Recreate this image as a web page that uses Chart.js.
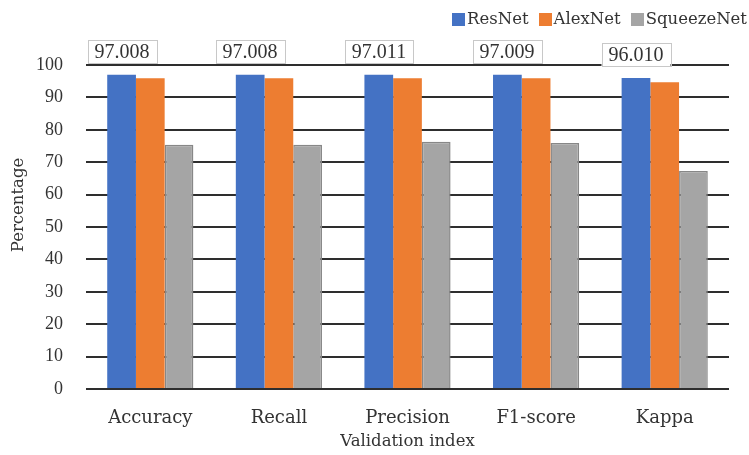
<!DOCTYPE html>
<html>
<head>
<meta charset="utf-8">
<style>
  html, body { margin: 0; padding: 0; background: #ffffff; }
  #wrap { width: 749px; height: 455px; position: relative; }
</style>
<script src="https://cdn.jsdelivr.net/npm/chart.js@4.4.1/dist/chart.umd.min.js"></script>
</head>
<body>
<div id="wrap"><canvas id="chart" width="749" height="455"></canvas></div>
<script>
// Validation metrics per network
const categories = ['Accuracy', 'Recall', 'Precision', 'F1-score', 'Kappa'];
const seriesNames = ['ResNet', 'AlexNet', 'SqueezeNet'];
const resnetValues = [97.008, 97.008, 97.011, 97.009, 96.010];
const alexnetValues = [95.9, 95.9, 95.9, 95.9, 94.7];
const squeezenetValues = [75.4, 75.4, 76.3, 75.9, 67.3];
const yTicks = [0, 10, 20, 30, 40, 50, 60, 70, 80, 90, 100];
const yTitle = 'Percentage';

const WIDE = '"DejaVu Serif", serif';
const NARROW = '"Liberation Serif", serif';
const TEXT = '#333333';

// Boxed value labels above the ResNet bars
const valueBoxes = {
  id: 'valueBoxes',
  afterDatasetsDraw(chart) {
    const ctx = chart.ctx;
    const meta = chart.getDatasetMeta(0);
    ctx.save();
    ctx.font = '20px ' + NARROW;
    ctx.textAlign = 'center';
    ctx.textBaseline = 'middle';
    meta.data.forEach((bar, i) => {
      const label = resnetValues[i].toFixed(3);
      const w = Math.round(ctx.measureText(label).width + 14);
      const h = 23;
      const cx = Math.round(bar.x);
      const bottom = Math.round(bar.y - 12);
      ctx.fillStyle = '#ffffff';
      ctx.fillRect(cx - w / 2, bottom - h, w, h);
      ctx.strokeStyle = '#c8c8c8';
      ctx.lineWidth = 1;
      ctx.strokeRect(Math.round(cx - w / 2) + 0.5, bottom - h + 0.5, w, h);
      ctx.fillStyle = TEXT;
      ctx.fillText(label, cx, bottom - h / 2 + 1);
    });
    ctx.restore();
  }
};

// Compact legend in the top-right corner and the vertical axis title
const cornerLegend = {
  id: 'cornerLegend',
  afterDraw(chart) {
    const ctx = chart.ctx;
    ctx.save();
    ctx.font = '16.5px ' + WIDE;
    ctx.textBaseline = 'middle';
    ctx.textAlign = 'left';
    const box = 13, gapText = 2, gapItem = 10, yMid = 19;
    const items = chart.data.datasets.map(ds => ({
      text: ds.label, color: ds.backgroundColor,
      w: ctx.measureText(ds.label).width
    }));
    let total = 0;
    items.forEach((it, i) => { total += box + gapText + it.w + (i ? gapItem : 0); });
    let x = 747 - total;
    items.forEach(it => {
      ctx.fillStyle = it.color;
      ctx.fillRect(Math.round(x), yMid - 6, box, box);
      x += box + gapText;
      ctx.fillStyle = TEXT;
      ctx.fillText(it.text, x, yMid + 1);
      x += it.w + gapItem;
    });

    ctx.translate(19, 205);
    ctx.rotate(-Math.PI / 2);
    ctx.textAlign = 'center';
    ctx.font = '16.5px ' + WIDE;
    ctx.fillText(yTitle, 0, 0);
    ctx.restore();
  }
};

new Chart(document.getElementById('chart'), {
  type: 'bar',
  data: {
    labels: categories,
    datasets: [
      { label: seriesNames[0], data: resnetValues, backgroundColor: '#4472c4', borderColor: '#4472c4', borderWidth: 0 },
      { label: seriesNames[1], data: alexnetValues, backgroundColor: '#ed7d31', borderColor: '#ed7d31', borderWidth: 0 },
      { label: seriesNames[2], data: squeezenetValues, backgroundColor: '#a5a5a5', borderColor: '#878787', borderWidth: 1.5 }
    ]
  },
  options: {
    responsive: false,
    animation: false,
    devicePixelRatio: 1,
    categoryPercentage: 0.67,
    barPercentage: 1.0,
    layout: { padding: { top: 65, right: 20, left: 0, bottom: 0 } },
    plugins: {
      legend: { display: false },
      tooltip: { enabled: false }
    },
    scales: {
      x: {
        grid: { display: false, drawTicks: false },
        border: { display: false },
        ticks: { color: TEXT, font: { family: WIDE, size: 18 }, padding: 19, maxRotation: 0 },
        title: { display: true, text: 'Validation index', color: TEXT, font: { family: WIDE, size: 16.5 }, padding: { top: 0, bottom: 3 } },
        afterFit(scale) { scale.height = 66; }
      },
      y: {
        min: 0,
        max: 100,
        afterBuildTicks(scale) { scale.ticks = yTicks.map(v => ({ value: v })); },
        grid: { color: '#2e2e2e', lineWidth: 2, drawTicks: false },
        border: { display: false },
        ticks: { color: TEXT, font: { family: NARROW, size: 18 }, padding: 23 },
        afterFit(scale) { scale.width = 86; }
      }
    }
  },
  plugins: [valueBoxes, cornerLegend]
});
</script>
</body>
</html>
